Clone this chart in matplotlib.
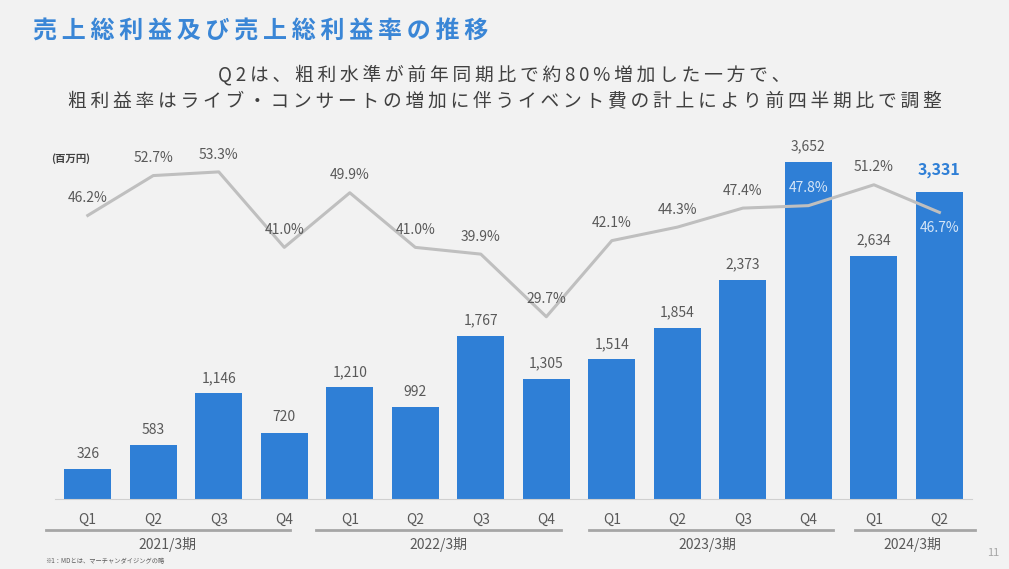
import matplotlib
matplotlib.use("Agg")
import matplotlib.pyplot as plt

plt.rcParams["font.family"] = ["Noto Sans CJK JP", "DejaVu Sans"]

BG = "#f2f2f2"
BAR = "#2f7fd6"
LINE = "#bfbfbf"
INK = "#595959"
DARK = "#404040"

quarters = ["Q1", "Q2", "Q3", "Q4", "Q1", "Q2", "Q3", "Q4",
            "Q1", "Q2", "Q3", "Q4", "Q1", "Q2"]
gross_profit = [326, 583, 1146, 720, 1210, 992, 1767, 1305,
                1514, 1854, 2373, 3652, 2634, 3331]
margin = [46.2, 52.7, 53.3, 41.0, 49.9, 41.0, 39.9, 29.7,
          42.1, 44.3, 47.4, 47.8, 51.2, 46.7]
fiscal_years = ["2021/3期", "2022/3期", "2023/3期", "2024/3期"]
year_spans = [(-0.64, 3.08), (3.48, 7.22), (7.65, 11.37), (11.71, 13.54)]
year_label_x = [1.22, 5.35, 9.46, 12.58]


def spaced(s, sep="\u2009"):
    return sep.join(s)


fig = plt.figure(figsize=(10.09, 5.69), dpi=100, facecolor=BG)
ax = fig.add_axes([0.0545, 0.123, 0.909, 0.631])
ax.set_facecolor(BG)
x = list(range(len(quarters)))

ax.bar(x, gross_profit, width=0.72, color=BAR, zorder=2)
ax.set_xlim(-0.5, 13.5)
ax.set_ylim(0, 3890)
for sp in ["top", "right", "left"]:
    ax.spines[sp].set_visible(False)
ax.spines["bottom"].set_color("#d0d0d0")
ax.set_yticks([])
ax.set_xticks(x)
ax.set_xticklabels(quarters, fontsize=10, color=INK)
ax.tick_params(axis="x", length=0, pad=10)

for i, v in enumerate(gross_profit):
    if i == len(gross_profit) - 1:
        ax.annotate(f"{v:,}", (i, v), xytext=(0, 10), textcoords="offset points",
                    ha="center", va="bottom", fontsize=11.5, fontweight="bold",
                    color=BAR)
    else:
        ax.annotate(f"{v:,}", (i, v), xytext=(0, 6), textcoords="offset points",
                    ha="center", va="bottom", fontsize=10, color=INK)

ax2 = ax.twinx()
ax2.set_ylim(0, 58.5)
ax2.axis("off")
ax2.plot(x, margin, color=LINE, lw=2.2, zorder=3)
for i, m in enumerate(margin):
    col = INK
    dy = 12.5
    if i == 11:
        col = "#d6e6f7"
    if i == 13:
        col = "#d6e6f7"
        dy = -11
    ax2.annotate(f"{m:.1f}%", (i, m), xytext=(0, dy), textcoords="offset points",
                 ha="center", va="center", fontsize=10, color=col)

# fiscal year groups
for (a, b), lab, lx in zip(year_spans, fiscal_years, year_label_x):
    ax.plot([a, b], [-0.085, -0.085], transform=ax.get_xaxis_transform(),
            color="#a6a6a6", lw=2, clip_on=False)
    ax.text(lx, -0.127, lab, transform=ax.get_xaxis_transform(),
            ha="center", va="center", fontsize=10, color=INK)

fig.text(0.07, 0.722, "(百万円)", fontsize=7.5, fontweight="bold", color=DARK,
         ha="center", va="center")

fig.text(0.033, 0.947, spaced("売上総利益及び売上総利益率の推移"), fontsize=17.3,
         fontweight="bold", color="#3a86d6", ha="left", va="center")
fig.text(0.5, 0.868, spaced("Q2は、粗利水準が前年同期比で約80%増加した一方で、"),
         fontsize=13.5, color=DARK, ha="center", va="center")
fig.text(0.5, 0.822,
         spaced("粗利益率はライブ・コンサートの増加に伴うイベント費の計上により前四半期比で調整"),
         fontsize=13.5, color=DARK, ha="center", va="center")

fig.text(0.045, 0.014, "※1：MDとは、マーチャンダイジングの略", fontsize=4.5,
         color=INK, ha="left", va="center")
fig.text(0.984, 0.028, "11", fontsize=8, color="#a6a6a6", ha="center", va="center")

fig.savefig("out.png", dpi=100, facecolor=BG)
